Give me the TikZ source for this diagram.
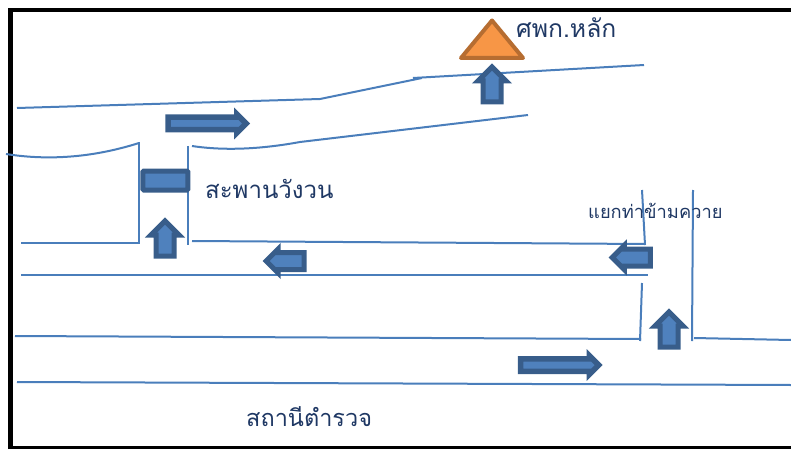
\documentclass[tikz,border=0pt]{standalone}
\usepackage{fontspec}
\newfontfamily\thaifont[Script=Thai]{Loma}
\usepackage{tikz}
\usetikzlibrary{shapes.arrows}
\definecolor{road}{HTML}{4A7EBB}
\definecolor{arrowfill}{HTML}{4F81BD}
\definecolor{arrowedge}{HTML}{385D8A}
\definecolor{labeltext}{HTML}{1F3864}
\definecolor{hqfill}{HTML}{F79646}
\definecolor{hqedge}{HTML}{B66D31}

\begin{document}
\begin{tikzpicture}[x=1pt,y=-1pt,
  road line/.style={draw=road,line width=2pt},
  label node/.style={text=labeltext,inner sep=0pt,anchor=west},
  flow node/.style={single arrow,fill=arrowfill,draw=arrowedge,line width=5pt,
    single arrow tip angle=90,single arrow head indent=0pt},
  up node/.style={flow node,inner sep=6.5pt,minimum height=35pt,
    single arrow head extend=5pt,shape border rotate=90},
  left node/.style={flow node,inner sep=6pt,minimum height=38pt,
    single arrow head extend=3.5pt,shape border rotate=180},
  long node/.style={flow node,inner sep=3.5pt,minimum height=78pt,line width=5.5pt,
    single arrow head extend=3pt}]
  \useasboundingbox (0,0) rectangle (791,449);

  % frame
  \draw[black,line width=4.5pt] (10.5,449) -- (10.5,10) -- (791,10);
  \draw[black,line width=3pt] (10.5,447.5) -- (791,447.5);

  % roads
  \path[road line] (17,108) -- (320,99) -- (422,78);
  \path[road line] (413,78) -- (644,65);
  \path[road line] (192,146) .. controls (225,151) and (262,149) .. (300,142) -- (528,115);
  \path[road line] (6,154) .. controls (50,161) and (95,157) .. (139,143);
  \path[road line] (139,142) -- (139,243) -- (21,243);
  \path[road line] (188,146) -- (188,245);
  \path[road line] (192,241) -- (645,244);
  \path[road line] (21,275) -- (648,275);
  \path[road line] (15,336) -- (641,339);
  \path[road line] (694,338) -- (791,340);
  \path[road line] (17,382) -- (791,385);
  \path[road line] (642,190) -- (645,245);
  \path[road line] (642,283) -- (640,341);
  \path[road line] (693,190) -- (692,341);

  % places
  \draw[fill=hqfill,draw=hqedge,line width=4pt,line join=round] (492,20.5) -- (523,58) -- (461,58) -- cycle;
  \node[rectangle,rounded corners=1pt,fill=arrowfill,draw=arrowedge,line width=5pt,minimum width=45pt,minimum height=19pt,inner sep=0pt] (bridge) at (165.3,180.5) {};

  % arrows
  \node[up node] (a1) at (492,89) {};
  \node[up node] (a2) at (165,243) {};
  \node[up node] (a3) at (669,334) {};
  \node[long node] (a4) at (204,123.5) {};
  \node[long node] (a5) at (556.5,365) {};
  \node[left node] (a6) at (289.4,261) {};
  \node[left node] (a7) at (635.5,257.5) {};

  % labels
  \node[label node,font=\thaifont\fontsize{24.7}{25}\selectfont] (l1) at (516,28) {ศพก.หลัก};
  \node[label node,font=\thaifont\fontsize{24}{25}\selectfont] (l2) at (205,188.5) {สะพานวังวน};
  \node[label node,font=\thaifont\fontsize{18.3}{19}\selectfont] (l3) at (588,210.5) {แยกท่าข้ามควาย};
  \node[label node,font=\thaifont\fontsize{23.5}{25}\selectfont] (l4) at (246,417) {สถานีตำรวจ};
\end{tikzpicture}
\end{document}
